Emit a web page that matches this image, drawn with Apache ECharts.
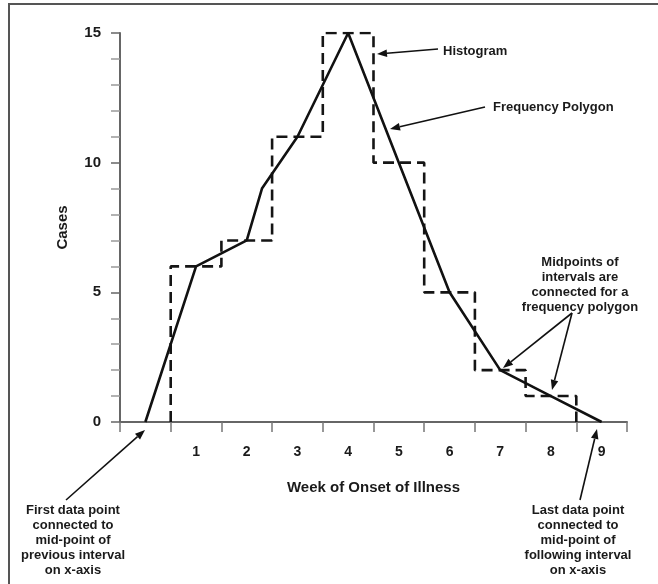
<!DOCTYPE html>
<html><head><meta charset="utf-8">
<script src="https://cdn.jsdelivr.net/npm/echarts@6.0.0/dist/echarts.min.js"></script>
<style>html,body{margin:0;padding:0;background:#fff}#c{width:658px;height:584px}</style>
</head><body><div id="c"></div>
<script>
// x-axis intervals (tick labels); interval 0 is the empty "previous interval"
const categories = ['', '1', '2', '3', '4', '5', '6', '7', '8', '9'];
// histogram: week of onset and number of cases
const weeks = [1, 2, 3, 4, 5, 6, 7, 8];
const cases = [6, 7, 11, 15, 10, 5, 2, 1];
// frequency polygon as drawn: interval position (midpoints, plus one hand-drawn bend) and value
const polyWeeks = [0, 1, 2, 2.3, 3, 4, 5, 6, 7, 8, 9];
const polyCases = [0, 6, 7, 9, 11, 15, 10, 5, 2, 1, 0];
const yTicks = [0, 5, 10, 15];

const FONT = '"Liberation Sans", Arial, sans-serif';
const chart = echarts.init(document.getElementById('c'), null, {renderer: 'canvas'});

// histogram outline (step path built from the data)
const histPts = [[weeks[0], 0]];
weeks.forEach((w, i) => { histPts.push([w, cases[i]]); histPts.push([w + 1, cases[i]]); });
histPts.push([weeks[weeks.length - 1] + 1, 0]);
const polyPts = polyWeeks.map((w, i) => [w + 0.5, polyCases[i]]);

function arrow(x1, y1, x2, y2) {
  const a = Math.atan2(y2 - y1, x2 - x1), L = 10, W = 3.8;
  const bx = x2 - L * Math.cos(a), by = y2 - L * Math.sin(a);
  const px = -Math.sin(a) * W, py = Math.cos(a) * W;
  return [
    {type: 'line', silent: true, shape: {x1: x1, y1: y1, x2: bx, y2: by}, style: {stroke: '#111', lineWidth: 1.6}},
    {type: 'polygon', silent: true, shape: {points: [[x2, y2], [bx + px, by + py], [bx - px, by - py]]}, style: {fill: '#111'}}
  ];
}
function txt(t, x, y, align, size) {
  return {type: 'text', silent: true, style: {text: t, x: x, y: y, align: align || 'center', verticalAlign: 'middle',
    font: 'bold ' + (size || 13) + 'px ' + FONT, fill: '#1a1a1a', lineHeight: 15}};
}

const graphic = [
  {type: 'text', silent: true, style: {text: 'Figure 4.14: Comparison of Frequency Polygon and Histogram', x: 3, y: -12,
    align: 'left', verticalAlign: 'middle', font: 'bold 24px ' + FONT, fill: '#1a1a1a'}},
  {type: 'polyline', silent: true, shape: {points: [[9, 584], [9, 4], [658, 4]]}, style: {stroke: '#555', lineWidth: 2, fill: null}},
  txt('Histogram', 443, 51, 'left'),
  txt('Frequency Polygon', 493, 107, 'left'),
  txt('Midpoints of\nintervals are\nconnected for a\nfrequency polygon', 580, 285),
  txt('First data point\nconnected to\nmid-point of\nprevious interval\non x-axis', 73, 540),
  txt('Last data point\nconnected to\nmid-point of\nfollowing interval\non x-axis', 578, 540)
].concat(arrow(438, 49, 377, 54), arrow(485, 107, 390, 129), arrow(572, 313, 503, 368),
         arrow(572, 313, 552, 390), arrow(66, 500, 145, 430), arrow(580, 500, 597, 429));

chart.setOption({
  animation: false,
  backgroundColor: '#fff',
  grid: {left: 120, right: 31, top: 33, bottom: 162, containLabel: false},
  xAxis: [{
    type: 'category', data: categories, boundaryGap: true, position: 'bottom',
    name: 'Week of Onset of Illness', nameLocation: 'middle', nameGap: 58,
    nameTextStyle: {fontFamily: FONT, fontWeight: 'bold', fontSize: 15, color: '#1a1a1a'},
    axisLine: {show: true, lineStyle: {color: '#666', width: 2}},
    axisTick: {show: true, interval: 0, length: 10, inside: false, lineStyle: {color: '#777', width: 1.5}},
    axisLabel: {interval: 0, margin: 23, fontFamily: FONT, fontWeight: 'bold', fontSize: 14, color: '#1a1a1a'},
    splitLine: {show: false}
  }, {
    type: 'value', min: 0, max: 10, show: false, position: 'bottom'
  }],
  yAxis: {
    type: 'value', min: yTicks[0], max: yTicks[yTicks.length - 1], interval: 5,
    name: 'Cases', nameLocation: 'middle', nameGap: 50, nameRotate: 90,
    nameTextStyle: {fontFamily: FONT, fontWeight: 'bold', fontSize: 15, color: '#1a1a1a'},
    axisLine: {show: true, lineStyle: {color: '#666', width: 2}},
    axisTick: {show: true, length: 9, inside: false, lineStyle: {color: '#666', width: 1.5}},
    minorTick: {show: true, splitNumber: 5, length: 9, lineStyle: {color: '#999', width: 1.5}},
    axisLabel: {margin: 19, fontFamily: FONT, fontWeight: 'bold', fontSize: 15, color: '#1a1a1a'},
    splitLine: {show: false}
  },
  series: [{
    type: 'line', name: 'Histogram', xAxisIndex: 1, data: histPts, symbol: 'none', silent: true,
    lineStyle: {color: '#151515', width: 2.6, type: [11, 6]}, z: 2
  }, {
    type: 'line', name: 'Frequency Polygon', xAxisIndex: 1, data: polyPts, symbol: 'none', silent: true,
    lineStyle: {color: '#111', width: 2.6}, z: 3
  }],
  graphic: graphic
});
</script></body></html>
